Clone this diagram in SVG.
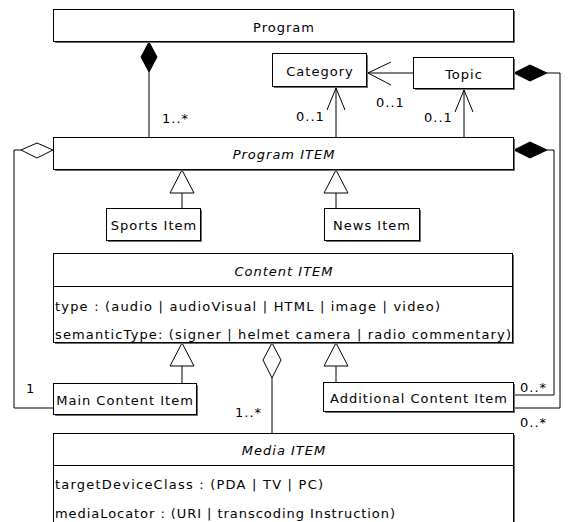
<svg xmlns="http://www.w3.org/2000/svg" width="568" height="522" viewBox="0 0 568 522">
<style>
.sh{fill:#6e6e6e;stroke:none}
.bx{fill:#fff;stroke:#000;stroke-width:1}
.ln{fill:none;stroke:#000;stroke-width:1}
.t{font-family:"DejaVu Sans","Liberation Sans",sans-serif;font-size:13px;letter-spacing:1px;fill:#000}
.c{text-anchor:middle}
.i{font-style:italic}
.a{letter-spacing:0}
.fd{fill:#000;stroke:#000;stroke-width:1}
.hd{fill:#fff;stroke:#000;stroke-width:1}
</style>
<rect width="568" height="522" fill="#fff"/>
<g id="connectors">
  <!-- Program composition -->
  <line class="ln" x1="149" y1="72" x2="149" y2="137"/>
  <polygon class="fd" points="149,42 157,57 149,72 141,57"/>
  <text class="t" x="162" y="123">1..*</text>
  <!-- Topic -> Category -->
  <line class="ln" x1="413" y1="73" x2="368" y2="73"/>
  <polyline class="ln" points="391,62 368,73 391,85"/>
  <text class="t" x="376" y="107">0..1</text>
  <!-- Program ITEM -> Category -->
  <line class="ln" x1="336" y1="137" x2="336" y2="88"/>
  <polyline class="ln" points="327,110 336,88 345,110"/>
  <text class="t" x="296" y="121">0..1</text>
  <!-- Program ITEM -> Topic -->
  <line class="ln" x1="464" y1="137" x2="464" y2="90"/>
  <polyline class="ln" points="455,112 464,90 473,112"/>
  <text class="t" x="424" y="122">0..1</text>
  <!-- Topic composition to Additional Content Item -->
  <polygon class="fd" points="514,73 530,65 547,73 530,81"/>
  <polyline class="ln" points="547,73 560,73 560,408 514,408"/>
  <text class="t" x="520" y="427">0..*</text>
  <!-- Program ITEM composition to Additional Content Item -->
  <polygon class="fd" points="514,150 530,142 547,150 530,158"/>
  <polyline class="ln" points="547,150 554,150 554,395 514,395"/>
  <text class="t" x="520" y="392">0..*</text>
  <!-- Program ITEM aggregation to Main Content Item -->
  <polygon class="hd" points="53,150 37,143 21,150 37,158"/>
  <polyline class="ln" points="21,150 14,150 14,408 53,408"/>
  <text class="t" x="26" y="393">1</text>
  <!-- Generalizations to Program ITEM -->
  <line class="ln" x1="182" y1="193" x2="182" y2="208"/>
  <polygon class="hd" points="182,170 194,193 170,193"/>
  <line class="ln" x1="336" y1="193" x2="336" y2="208"/>
  <polygon class="hd" points="336,170 348,193 324,193"/>
  <!-- Generalizations to Content ITEM -->
  <line class="ln" x1="182" y1="366" x2="182" y2="383"/>
  <polygon class="hd" points="182,343 194,366 170,366"/>
  <line class="ln" x1="336" y1="366" x2="336" y2="382"/>
  <polygon class="hd" points="336,343 348,366 324,366"/>
  <!-- Content ITEM aggregation to Media ITEM -->
  <line class="ln" x1="272" y1="378" x2="272" y2="433"/>
  <polygon class="hd" points="272,343 281,360 272,378 263,360"/>
  <text class="t" x="235" y="417">1..*</text>
</g>
<g id="program">
  <rect class="sh" x="55" y="11" width="460" height="32"/>
  <rect class="bx" x="53.5" y="9.5" width="460" height="32"/>
  <text class="t c" x="284" y="32">Program</text>
</g>
<g id="category">
  <rect class="sh" x="274" y="55" width="94" height="33"/>
  <rect class="bx" x="272.5" y="53.5" width="94" height="33"/>
  <text class="t c" x="320" y="76">Category</text>
</g>
<g id="topic">
  <rect class="sh" x="415" y="59" width="100" height="31"/>
  <rect class="bx" x="413.5" y="57.5" width="100" height="31"/>
  <text class="t c" x="464" y="79">Topic</text>
</g>
<g id="program-item">
  <rect class="sh" x="55" y="139" width="460" height="32"/>
  <rect class="bx" x="53.5" y="137.5" width="460" height="32"/>
  <text class="t c i" x="284" y="159">Program ITEM</text>
</g>
<g id="sports-item">
  <rect class="sh" x="108" y="210" width="94" height="32"/>
  <rect class="bx" x="106.5" y="208.5" width="94" height="32"/>
  <text class="t c" x="154" y="230">Sports Item</text>
</g>
<g id="news-item">
  <rect class="sh" x="326" y="210" width="95" height="32"/>
  <rect class="bx" x="324.5" y="208.5" width="95" height="32"/>
  <text class="t c" x="372" y="230">News Item</text>
</g>
<g id="content-item">
  <rect class="sh" x="55" y="255" width="459" height="89"/>
  <rect class="bx" x="53.5" y="253.5" width="459" height="89"/>
  <line class="ln" x1="53.5" y1="286.5" x2="512.5" y2="286.5"/>
  <text class="t c i" x="284" y="276">Content ITEM</text>
  <text class="t a" x="55" y="311" textLength="385" lengthAdjust="spacing">type : (audio | audioVisual | HTML | image | video)</text>
  <text class="t a" x="55" y="339" textLength="456" lengthAdjust="spacing">semanticType: (signer | helmet camera | radio commentary)</text>
</g>
<g id="main-content-item">
  <rect class="sh" x="55" y="385" width="143" height="31"/>
  <rect class="bx" x="53.5" y="383.5" width="143" height="31"/>
  <text class="t c" x="125" y="405">Main Content Item</text>
</g>
<g id="additional-content-item">
  <rect class="sh" x="325" y="384" width="190" height="29"/>
  <rect class="bx" x="323.5" y="382.5" width="190" height="29"/>
  <text class="t c" x="419" y="403">Additional Content Item</text>
</g>
<g id="media-item">
  <rect class="sh" x="55" y="435" width="460" height="99"/>
  <rect class="bx" x="53.5" y="433.5" width="460" height="99"/>
  <line class="ln" x1="53.5" y1="465.5" x2="513.5" y2="465.5"/>
  <text class="t c i" x="284" y="455">Media ITEM</text>
  <text class="t a" x="55" y="489" textLength="268" lengthAdjust="spacing">targetDeviceClass : (PDA | TV | PC)</text>
  <text class="t a" x="55" y="518" textLength="340" lengthAdjust="spacing">mediaLocator : (URI | transcoding Instruction)</text>
</g>
</svg>
